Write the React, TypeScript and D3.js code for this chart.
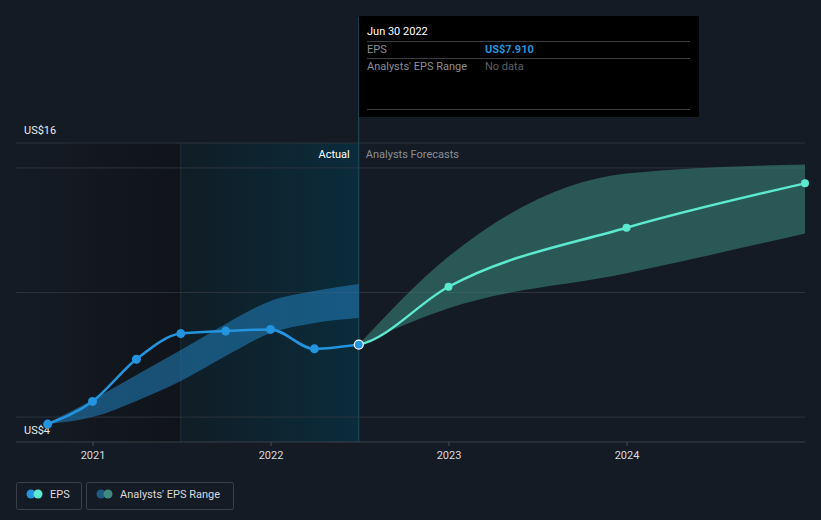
import * as d3 from "d3"

// Actual EPS (quarterly, trailing)
const actualDates = ["2020-09-30", "2020-12-31", "2021-03-31", "2021-06-30", "2021-09-30", "2021-12-31", "2022-03-31", "2022-06-30"]
const actualEps = [4.72, 5.63, 7.32, 8.35, 8.45, 8.52, 7.74, 7.91]

// Past analyst range band
const pastHigh = [4.76, 5.69, 6.69, 7.69, 8.74, 9.66, 10.06, 10.34]
const pastLow = [4.72, 5.0, 5.65, 6.45, 7.45, 8.37, 8.78, 8.98]

// Forecast
const forecastDates = ["2022-06-30", "2022-12-31", "2023-12-31", "2024-12-31"]
const forecastEps = [7.91, 10.23, 12.6, 14.38]
const forecastHigh = [7.91, 11.44, 14.78, 15.14]
const forecastLow = [7.91, 9.37, 10.77, 12.37]

const yearTicks = ["2021", "2022", "2023", "2024"]
const gridValues = [5, 10, 15, 16]

const W = 821
const H = 520
const parse = d3.timeParse("%Y-%m-%d")

export default function App() {
  const x = d3.scaleTime().domain([parse("2021-01-01")!, parse("2024-01-01")!]).range([93, 627])
  const y = d3.scaleLinear().domain([4, 16]).range([442, 143])
  const left = 16
  const right = 805

  const actual = actualDates.map((d, i) => ({ date: parse(d)!, v: actualEps[i], hi: pastHigh[i], lo: pastLow[i] }))
  const forecast = forecastDates.map((d, i) => ({ date: parse(d)!, v: forecastEps[i], hi: forecastHigh[i], lo: forecastLow[i] }))
  // the forecast line continues the actual line smoothly, so include the prior quarter and clip it away
  const forecastLine = [actual[actual.length - 2], ...forecast]

  const line = d3.line<any>().x((d) => x(d.date)).y((d) => y(d.v)).curve(d3.curveMonotoneX)
  const band = d3
    .area<any>()
    .x((d) => x(d.date))
    .y0((d) => y(d.lo))
    .y1((d) => y(d.hi))
    .curve(d3.curveMonotoneX)

  const nowX = x(parse("2022-06-30")!)
  const pastYearX = x(parse("2021-06-30")!)
  const font = "Roboto, 'Open Sans', sans-serif"

  return (
    <svg width={W} height={H} style={{ position: "absolute", left: 0, top: 0, background: "#151b25", fontFamily: font }}>
      <defs>
        <linearGradient id="leftShade" x1="0" x2="1" y1="0" y2="0">
          <stop offset="0%" stopColor="#151b25" />
          <stop offset="100%" stopColor="#10141a" />
        </linearGradient>
        <linearGradient id="pastShade" x1="0" x2="1" y1="0" y2="0">
          <stop offset="0%" stopColor="#101d26" />
          <stop offset="100%" stopColor="#0a2c3b" />
        </linearGradient>
        <clipPath id="futureClip">
          <rect x={nowX} y={0} width={W - nowX} height={H} />
        </clipPath>
      </defs>
      <rect width={W} height={H} fill="#151b25" />
      <rect x={left} y={143} width={pastYearX - left} height={442 - 143} fill="url(#leftShade)" />
      <rect x={pastYearX} y={143} width={nowX - pastYearX} height={442 - 143} fill="url(#pastShade)" />
      <line x1={pastYearX} x2={pastYearX} y1={143} y2={442} stroke="#1a2f3a" strokeWidth={1} />

      {gridValues.map((g) => (
        <line key={g} x1={left} x2={right} y1={y(g)} y2={y(g)} stroke="#2c323c" strokeWidth={1} />
      ))}
      <line x1={left} x2={right} y1={442} y2={442} stroke="#3a404a" strokeWidth={1} />
      {yearTicks.map((t) => {
        const tx = x(parse(`${t}-01-01`)!)
        return (
          <g key={t}>
            <line x1={tx} x2={tx} y1={442} y2={446} stroke="#4a505a" />
            <text x={tx} y={459} fill="#d8dadd" fontSize={11} textAnchor="middle">{t}</text>
          </g>
        )
      })}

      <text x={24} y={134} fill="#e8eaec" fontSize={11}>US$16</text>
      <text x={24} y={434} fill="#e8eaec" fontSize={11}>US$4</text>

      <line x1={nowX} x2={nowX} y1={17} y2={442} stroke="#1d4c5c" strokeWidth={1} />
      <text x={nowX - 9} y={158} fill="#ffffff" fontSize={11} textAnchor="end">Actual</text>
      <text x={nowX + 7} y={158} fill="#8a8f96" fontSize={11}>Analysts Forecasts</text>

      <path d={band(actual) ?? ""} fill="#1f78b0" fillOpacity={0.6} />
      <path d={band(forecast) ?? ""} fill="#3d8a80" fillOpacity={0.55} />

      <path d={line(actual) ?? ""} fill="none" stroke="#2394df" strokeWidth={2.5} />
      <path d={line(forecastLine) ?? ""} fill="none" stroke="#5de8d0" strokeWidth={2.5} clipPath="url(#futureClip)" />

      {actual.slice(0, -1).map((d, i) => (
        <circle key={i} cx={x(d.date)} cy={y(d.v)} r={4.5} fill="#2394df" />
      ))}
      {forecast.slice(1).map((d, i) => (
        <circle key={i} cx={x(d.date)} cy={y(d.v)} r={4} fill="#5de8d0" />
      ))}
      <circle cx={nowX} cy={y(7.91)} r={4.5} fill="#2394df" stroke="#ffffff" strokeWidth={1.2} />

      {/* tooltip */}
      <g>
        <rect x={359} y={16} width={340} height={101} fill="#000000" />
        <text x={367} y={35} fill="#ffffff" fontSize={11}>Jun 30 2022</text>
        <line x1={367} x2={690} y1={41.5} y2={41.5} stroke="#3a3d42" />
        <text x={367} y={53} fill="#8a8e94" fontSize={11}>EPS</text>
        <text x={485} y={53} fill="#2394df" fontSize={11} fontWeight="bold">US$7.910</text>
        <line x1={367} x2={690} y1={58.5} y2={58.5} stroke="#3a3d42" />
        <text x={367} y={70} fill="#8a8e94" fontSize={11}>Analysts' EPS Range</text>
        <text x={485} y={70} fill="#5c6066" fontSize={11}>No data</text>
        <line x1={367} x2={690} y1={109.5} y2={109.5} stroke="#3a3d42" />
      </g>

      {/* legend */}
      <g>
        <rect x={16.5} y={482.5} width={65} height={27} rx={2} fill="none" stroke="#3a3f4a" />
        <circle cx={31} cy={494} r={4.5} fill="#2394df" />
        <circle cx={38} cy={494} r={4.5} fill="#5de8d0" />
        <text x={50} y={498} fill="#d8dadd" fontSize={11}>EPS</text>
        <rect x={86.5} y={482.5} width={147} height={27} rx={2} fill="none" stroke="#3a3f4a" />
        <circle cx={101} cy={494} r={4.5} fill="#1f5a80" />
        <circle cx={108} cy={494} r={4.5} fill="#3f8a80" />
        <text x={120} y={498} fill="#d8dadd" fontSize={11}>Analysts' EPS Range</text>
      </g>
    </svg>
  )
}
